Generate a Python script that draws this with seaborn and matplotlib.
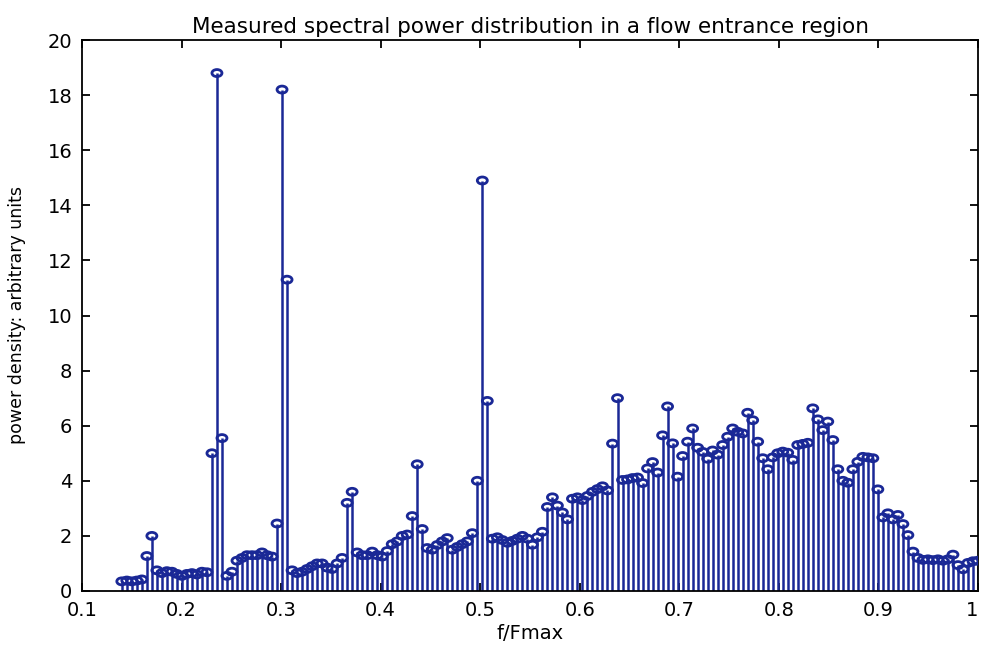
import numpy as np
import pandas as pd
import matplotlib
matplotlib.use("Agg")
import matplotlib.pyplot as plt
from matplotlib.path import Path
from matplotlib.transforms import Affine2D
import seaborn as sns

# ---- data ----
f_start = 0.14
f_end = 1.0
power = [
    0.35, 0.38, 0.35, 0.38, 0.42, 1.27, 2.0, 0.75, 0.65, 0.72,
    0.7, 0.62, 0.55, 0.62, 0.65, 0.6, 0.7, 0.68, 5.0, 18.8,
    5.55, 0.55, 0.7, 1.1, 1.2, 1.3, 1.3, 1.3, 1.4, 1.3,
    1.25, 2.45, 18.2, 11.3, 0.75, 0.65, 0.7, 0.8, 0.9, 1.0,
    1.0, 0.85, 0.8, 1.0, 1.2, 3.2, 3.6, 1.4, 1.3, 1.3,
    1.43, 1.3, 1.25, 1.45, 1.7, 1.8, 2.0, 2.05, 2.72, 4.6,
    2.25, 1.56, 1.5, 1.67, 1.8, 1.92, 1.5, 1.6, 1.7, 1.8,
    2.1, 4.0, 14.9, 6.9, 1.9, 1.95, 1.85, 1.75, 1.82, 1.9,
    2.0, 1.9, 1.68, 1.95, 2.15, 3.05, 3.4, 3.1, 2.85, 2.6,
    3.35, 3.4, 3.3, 3.45, 3.6, 3.7, 3.8, 3.65, 5.35, 7.0,
    4.03, 4.05, 4.1, 4.12, 3.92, 4.45, 4.68, 4.3, 5.65, 6.7,
    5.36, 4.15, 4.9, 5.42, 5.9, 5.2, 5.05, 4.8, 5.1, 4.95,
    5.3, 5.6, 5.9, 5.78, 5.72, 6.47, 6.2, 5.42, 4.82, 4.42,
    4.85, 5.0, 5.06, 5.02, 4.76, 5.3, 5.34, 5.38, 6.63, 6.23,
    5.84, 6.15, 5.48, 4.42, 4.0, 3.93, 4.42, 4.69, 4.87, 4.85,
    4.82, 3.69, 2.67, 2.82, 2.6, 2.76, 2.43, 2.03, 1.43, 1.2,
    1.13, 1.15, 1.12, 1.15, 1.1, 1.15, 1.32, 0.94, 0.79, 1.02,
    1.08, 1.1,
]
freq = np.linspace(f_start, f_end, len(power))
x_ticks = [0.1, 0.2, 0.3, 0.4, 0.5, 0.6, 0.7, 0.8, 0.9, 1.0]
x_tick_labels = ["0.1", "0.2", "0.3", "0.4", "0.5", "0.6", "0.7", "0.8", "0.9", "1"]
y_ticks = list(range(0, 21, 2))

df = pd.DataFrame({"f": freq, "p": power})

sns.set_style("ticks")
plt.rcParams["font.family"] = ["DejaVu Sans"]
plt.rcParams["text.color"] = "black"
plt.rcParams["axes.labelcolor"] = "black"

color = "#1a2896"

fig = plt.figure(figsize=(9.82, 6.52), dpi=100)
ax = fig.add_axes([82 / 982, 1 - 591 / 652, (978 - 82) / 982, (591 - 40) / 652])

# stems
ax.vlines(df["f"], 0, df["p"], color=color, linewidth=1.8, zorder=2)

# elliptical open markers
ell = Path.unit_circle().transformed(Affine2D().scale(1.0, 0.7))
sns.scatterplot(data=df, x="f", y="p", ax=ax, marker=ell, s=52,
                facecolor="none", edgecolor=color, linewidth=2.0,
                zorder=3, legend=False, clip_on=True)

ax.set_xlim(0.1, 1.0)
ax.set_ylim(0, 20)
ax.set_xticks(x_ticks)
ax.set_xticklabels(x_tick_labels)
ax.set_yticks(y_ticks)
ax.get_xticklabels()[-1].set_horizontalalignment("right")

for s in ax.spines.values():
    s.set_visible(True)
    s.set_color("black")
    s.set_linewidth(1.3)

ax.tick_params(direction="in", length=6, width=1.3, top=True, right=True,
               labelsize=14, colors="black", pad=7)

ax.set_title("Measured spectral power distribution in a flow entrance region",
             fontsize=15.5, pad=5, color="black")
ax.set_xlabel("f/Fmax", fontsize=14, labelpad=3, color="black")
ax.set_ylabel("power density: arbitrary units", fontsize=12.5, color="black")
ax.yaxis.set_label_coords(-0.0625, 0.5)

fig.savefig("out.png", dpi=100)
